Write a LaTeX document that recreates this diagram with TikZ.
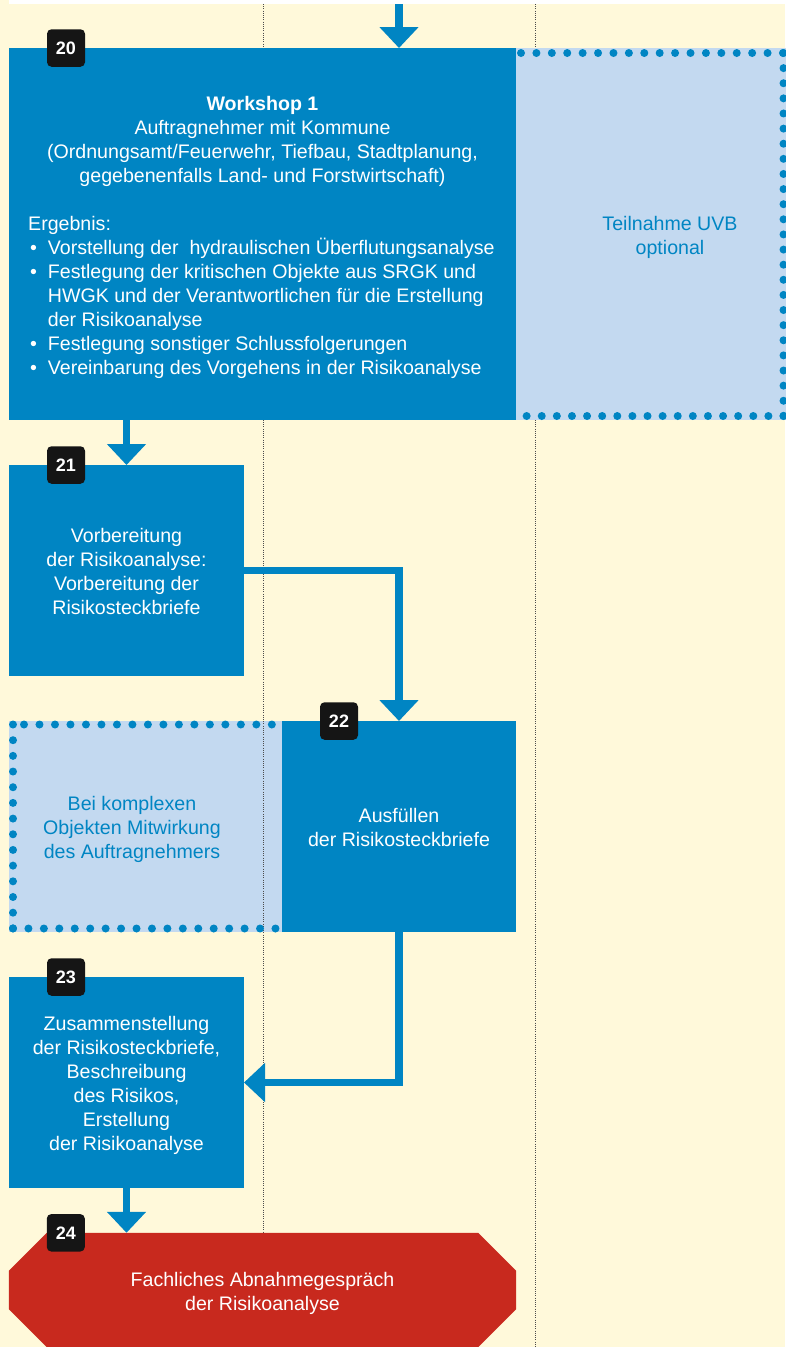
\documentclass[tikz,border=0pt]{standalone}
\usepackage{fontspec}
\setmainfont{Liberation Sans}
\usetikzlibrary{arrows.meta,calc}

\definecolor{cream}{HTML}{FFF9DA}
\definecolor{flowblue}{HTML}{0085C3}
\definecolor{paleblue}{HTML}{C3D9F0}
\definecolor{badgeblack}{HTML}{151515}
\definecolor{signred}{HTML}{C8291E}

% body text: 24pt line pitch, every line carries a fixed strut
\newcommand\bodyfont{\fontsize{19.6}{24}\selectfont}
\newcommand\badgefont{\fontsize{18}{20}\selectfont\bfseries}
\newcommand\sq{\rule[-6pt]{0pt}{24pt}}
\newcommand\bul{\makebox[19.7pt][l]{\hspace{2pt}\textbullet}}
\newcommand\ind{\hspace*{19.7pt}}

\begin{document}
\begin{tikzpicture}[x=1pt,y=-1pt,
  box/.style={fill=flowblue, inner sep=0pt, outer sep=0pt},
  optbox/.style={fill=paleblue, inner sep=0pt, outer sep=0pt},
  wtext/.style={text=white, font=\bodyfont, align=center, inner sep=0pt},
  btext/.style={text=flowblue, font=\bodyfont, align=center, inner sep=0pt},
  badge/.style={fill=badgeblack, text=white, rounded corners=4.5pt,
    minimum width=38pt, minimum height=37.5pt, inner sep=0pt, font=\badgefont},
  flow/.style={draw=flowblue, line width=7.3pt, -{Triangle[width=38pt,length=21pt]}},
  dots/.style={draw=flowblue, line width=8pt, line cap=round, dash pattern=on 0pt off #1},
  guide/.style={draw=black!70, line width=0.9pt, dash pattern=on 1pt off 1.2pt}]

\useasboundingbox (0,0) rectangle (785,1347);

% page background
\fill[cream] (0,0) rectangle (785,1347);
\fill[white] (9,0) rectangle (785,4);

% optional participation, lower left
\node[optbox, minimum width=273pt, minimum height=211pt] (opt22) at (145.5,826.5) {};

% column guides
\draw[guide] (263,4) -- (263,1347);
\draw[guide] (535,4) -- (535,1347);

% process boxes
\node[optbox, minimum width=280pt, minimum height=372pt] (opt20) at (656,234) {};
\node[box, minimum width=507pt, minimum height=372pt] (b20) at (262.5,234) {};
\node[box, minimum width=235pt, minimum height=211pt] (b21) at (126.5,570.5) {};
\node[box, minimum width=234pt, minimum height=211pt] (b22) at (399,826.5) {};
\node[box, minimum width=235pt, minimum height=211pt] (b23) at (126.5,1082.5) {};
\node[inner sep=0pt, minimum width=507pt, minimum height=114pt] (b24) at (262.5,1290) {};
\fill[signred] ($(b24.north west)+(38,0)$) -- ($(b24.north east)+(-38,0)$)
  -- ($(b24.north east)+(0,38)$) -- ($(b24.south east)+(0,-38)$)
  -- ($(b24.south east)+(-38,0)$) -- ($(b24.south west)+(38,0)$)
  -- ($(b24.south west)+(0,-38)$) -- ($(b24.north west)+(0,38)$) -- cycle;

% dotted frames of the optional boxes
\draw[dots=15.41pt] (521,53) -- (783.5,53);
\draw[dots=15.12pt] (783.5,53) -- (783.5,416);
\draw[dots=15.11pt] (783.5,416) -- (526,416);
\draw[dots=15.49pt] (24,724.5) -- (272,724.5);
\draw[dots=15.68pt] (13,724.5) -- (13,928.5);
\draw[dots=15.44pt] (13,928.5) -- (276,928.5);

% connectors
\coordinate (entry) at (399,4);
\draw[flow] (entry) -- (entry |- b20.north);
\draw[flow] (b21.north |- b20.south) -- (b21.north);
\draw[flow] (b21.east) -| (b22.north);
\draw[flow] (b22.south) |- (b23.east);
\draw[flow] (b23.south) -- (b23.south |- b24.north);

% texts
\node[wtext] (t20a) at (262.5,140) {\sq\textbf{Workshop 1}\\
  \sq Auftragnehmer mit Kommune\\
  \sq(Ordnungsamt/Feuerwehr, Tiefbau, Stadtplanung,\\
  \sq gegebenenfalls Land- und Forstwirtschaft)};
\node[wtext, align=left, anchor=west] (t20b) at (28,296) {\sq Ergebnis:\\
  \sq\bul Vorstellung der\ \ hydraulischen Überflutungsanalyse\\
  \sq\bul Festlegung der kritischen Objekte aus SRGK und\\
  \sq\ind HWGK und der Verantwortlichen für die Erstellung\\
  \sq\ind der Risikoanalyse\\
  \sq\bul Festlegung sonstiger Schlussfolgerungen\\
  \sq\bul Vereinbarung des Vorgehens in der Risikoanalyse};
\node[btext] (t20c) at (670,236.5) {\sq Teilnahme UVB\\ \sq optional};
\node[wtext] (t21) at (126.5,572.5) {\sq Vorbereitung\\ \sq der Risikoanalyse:\\
  \sq Vorbereitung der\\ \sq Risikosteckbriefe};
\node[btext] (t22a) at (132,828.5) {\sq Bei komplexen\\ \sq Objekten Mitwirkung\\
  \sq des Auftragnehmers};
\node[wtext] (t22) at (399,828.5) {\sq Ausfüllen\\ \sq der Risikosteckbriefe};
\node[wtext] (t23) at (126.5,1084) {\sq Zusammenstellung\\ \sq der Risikosteckbriefe,\\
  \sq Beschreibung\\ \sq des Risikos,\\ \sq Erstellung\\ \sq der Risikoanalyse};
\node[wtext] (t24) at (262.5,1292) {\sq Fachliches Abnahmegespräch\\ \sq der Risikoanalyse};

% step numbers
\node[badge] (n20) at ($(b20.north west)+(57,0)$) {20};
\node[badge] (n21) at ($(b21.north west)+(57,0)$) {21};
\node[badge] (n22) at ($(b22.north west)+(57,0)$) {22};
\node[badge] (n23) at ($(b23.north west)+(57,0)$) {23};
\node[badge] (n24) at ($(b24.north west)+(57,0)$) {24};
\end{tikzpicture}
\end{document}
